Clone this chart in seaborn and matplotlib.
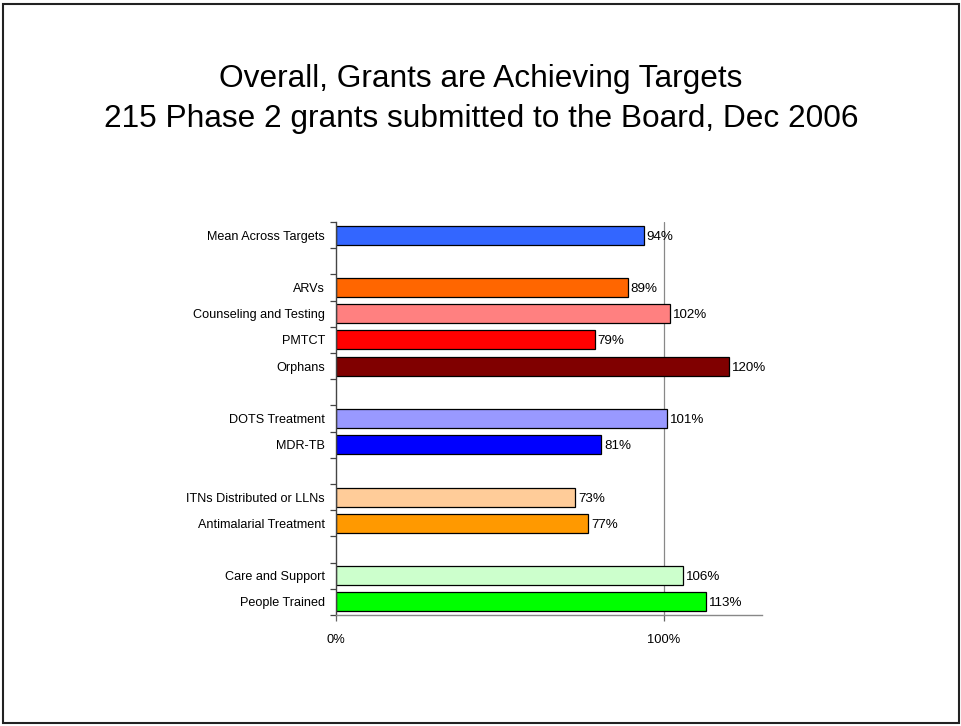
import matplotlib
matplotlib.use("Agg")
import matplotlib.pyplot as plt
import seaborn as sns
import pandas as pd
import numpy as np
from matplotlib.patches import Rectangle
from matplotlib.ticker import FixedLocator

sns.set_style("white")
plt.rcParams['font.family'] = ['Liberation Sans', 'DejaVu Sans']
plt.rcParams['text.color'] = 'black'
plt.rcParams['xtick.color'] = 'black'
plt.rcParams['ytick.color'] = 'black'

categories = ["Mean Across Targets", " ", "ARVs", "Counseling and Testing", "PMTCT", "Orphans",
              "  ", "DOTS Treatment", "MDR-TB", "   ", "ITNs Distributed or LLNs",
              "Antimalarial Treatment", "    ", "Care and Support", "People Trained"]
values = [0.94, np.nan, 0.89, 1.02, 0.79, 1.20, np.nan, 1.01, 0.81, np.nan, 0.73, 0.77,
          np.nan, 1.06, 1.13]
colors = ["#3366FF", "#FFFFFF", "#FF6600", "#FF8080", "#FF0000", "#800000", "#FFFFFF",
          "#9999FF", "#0000FF", "#FFFFFF", "#FFCC99", "#FF9900", "#FFFFFF", "#CCFFCC", "#00FF00"]
x_ticks = [0, 1.0]
x_ticklabels = ["0%", "100%"]

df = pd.DataFrame({"label": categories, "value": values})

fig = plt.figure(figsize=(9.62, 7.26), dpi=100)
fig.patches.append(Rectangle((0.003, 0.004), 0.994, 0.99, transform=fig.transFigure,
                             fill=False, edgecolor="#222222", linewidth=1.5))

ax = fig.add_axes([336/962, 1-615/726, (762-336)/962, (615-222)/726])
ax.axvline(1.0, color="#888888", linewidth=0.9, zorder=0)
sns.barplot(data=df, y="label", x="value", hue="label", order=categories,
            palette=dict(zip(categories, colors)), legend=False, orient="h",
            saturation=1, width=0.73, edgecolor="black", linewidth=0.9, ax=ax, zorder=2)

for i, v in enumerate(values):
    if not np.isnan(v):
        ax.text(v + 0.008, i, f"{int(round(v*100))}%", va="center_baseline", ha="left",
                fontsize=9.6, color="black")

ax.set_xlim(0, 1.3)
ax.set_ylim(14.5, -0.5)
ax.set_xticks(x_ticks)
ax.set_xticklabels(x_ticklabels, fontsize=9.3)
ax.set_xlabel("")
ax.set_ylabel("")
ax.tick_params(axis="y", which="major", length=0, labelsize=9.1, pad=8, labelcolor="black")
ax.yaxis.set_minor_locator(FixedLocator(np.arange(-0.5, 15, 1.0)))
ax.tick_params(axis="y", which="minor", left=True, length=4, width=0.9, color="#444444")
ax.tick_params(axis="x", which="major", bottom=True, length=4, width=0.9, color="#666666",
               pad=10, labelcolor="black")
for s in ["top", "right"]:
    ax.spines[s].set_visible(False)
ax.spines["left"].set_color("#444444")
ax.spines["bottom"].set_color("#888888")
ax.spines["left"].set_linewidth(1.0)
ax.spines["bottom"].set_linewidth(1.0)

fig.text(0.5, 1-79/726, "Overall, Grants are Achieving Targets", ha="center", va="center",
         fontsize=22.8, color="black")
fig.text(0.5, 1-119/726, "215 Phase 2 grants submitted to the Board, Dec 2006", ha="center",
         va="center", fontsize=22.8, color="black")

fig.savefig("out.png", dpi=100)
